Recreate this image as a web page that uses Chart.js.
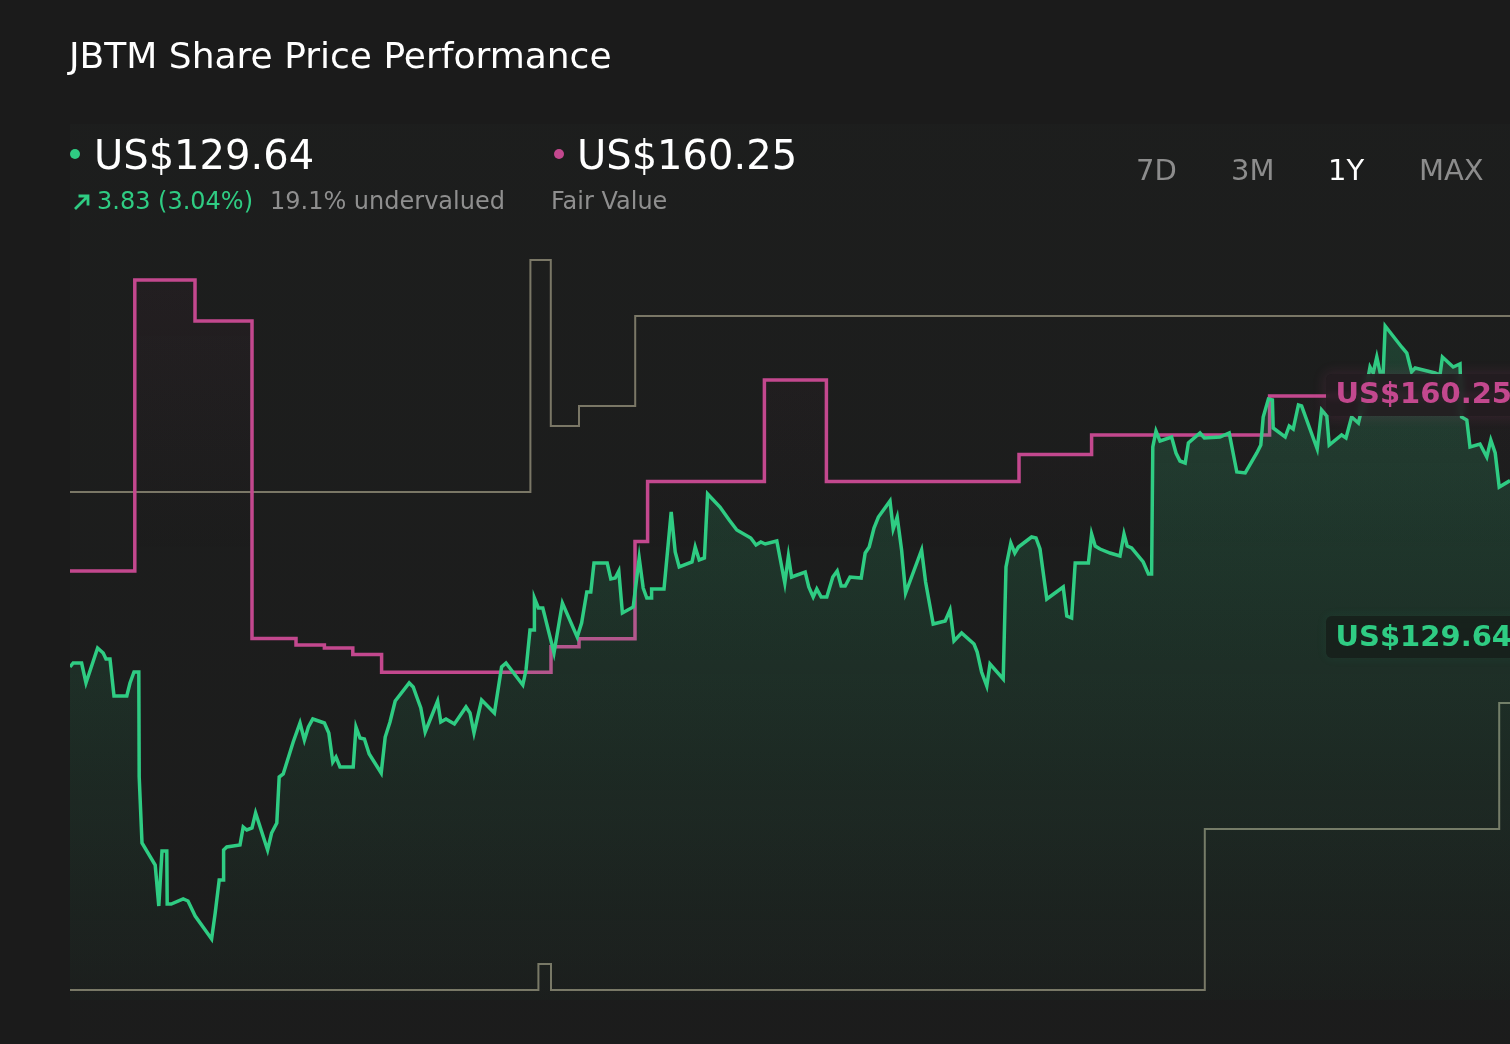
<!DOCTYPE html>
<html>
<head>
<meta charset="utf-8">
<script src="https://cdn.jsdelivr.net/npm/chart.js@4.4.1/dist/chart.umd.min.js"></script>
<style>
  html, body { margin:0; padding:0; background:#1b1b1b; }
  body { width:1510px; height:1044px; position:relative; overflow:hidden; font-family:"DejaVu Sans", sans-serif; }
  .abs { position:absolute; white-space:nowrap; line-height:1; }
  #panel { position:absolute; left:70px; top:124px; width:1440px; height:920px;
           background:linear-gradient(180deg, rgba(60,80,70,0.05), rgba(60,80,70,0.02)); }
  #c { position:absolute; left:0; top:0; }
  .btn { font-size:29px; color:#8c8c8c; top:156px; }
  .lbl { position:absolute; left:1326px; width:200px; height:42px; border-radius:6px;
         backdrop-filter: blur(3px); -webkit-backdrop-filter: blur(3px); }
</style>
</head>
<body>
<div id="panel"></div>
<canvas id="c" width="1510" height="1044"></canvas>

<div class="abs" style="left:69px; top:38px; font-size:36px; color:#ffffff;">JBTM Share Price Performance</div>

<div class="abs" style="left:70px; top:149px; width:10px; height:10px; border-radius:5px; background:#2fcc83;"></div>
<div class="abs" style="left:94px; top:134.5px; font-size:40px; color:#ffffff;">US$129.64</div>
<svg class="abs" style="left:72px; top:193px;" width="20" height="18" viewBox="0 0 20 18">
  <path d="M3 16 L16 3 M6.5 3 L16 3 L16 12.5" stroke="#2fcc83" stroke-width="2.8" fill="none"/>
</svg>
<div class="abs" style="left:97px; top:188.7px; font-size:24px; color:#2fcc83;">3.83 (3.04%)</div>
<div class="abs" style="left:270px; top:188.7px; font-size:24px; color:#8f8f8f;">19.1% undervalued</div>

<div class="abs" style="left:554px; top:149px; width:10px; height:10px; border-radius:5px; background:#c3488e;"></div>
<div class="abs" style="left:577px; top:134.5px; font-size:40px; color:#ffffff;">US$160.25</div>
<div class="abs" style="left:551px; top:188.7px; font-size:24px; color:#8f8f8f;">Fair Value</div>

<div class="abs btn" style="left:1136px;">7D</div>
<div class="abs btn" style="left:1231px;">3M</div>
<div class="abs btn" style="left:1328px; color:#ffffff;">1Y</div>
<div class="abs btn" style="left:1419px;">MAX</div>

<div class="lbl" style="top:374px; background:rgba(36,28,33,0.86); box-shadow:0 0 12px 3px rgba(195,72,142,0.12);"></div>
<div class="abs" style="left:1335.5px; top:379px; font-size:29px; font-weight:bold; color:#c3488e;">US$160.25</div>
<div class="lbl" style="top:616px; background:rgba(22,32,27,0.86); box-shadow:0 0 10px 2px rgba(47,204,131,0.05);"></div>
<div class="abs" style="left:1335.5px; top:622px; font-size:29px; font-weight:bold; color:#2fcc83;">US$129.64</div>

<script>
// ---- Data (x = day within the 1Y window, 0..360) ----
const priceDays = [
  0,0.8,2.9,4.0,6.9,8.3,9.0,10.0,11.0,14.2,
  15.0,16.0,17.2,17.3,18.0,21.3,22.2,23.0,24.2,24.3,
  25.3,28.3,29.5,31.3,35.4,36.3,37.3,38.3,38.4,39.2,
  42.5,43.3,44.2,45.5,46.4,49.4,50.4,51.7,52.3,53.3,
  55.8,57.5,58.6,59.6,60.7,63.6,64.7,65.7,66.5,67.5,
  70.8,71.5,72.5,73.6,74.8,77.8,78.8,80.0,81.3,84.8,
  85.8,86.7,87.7,88.8,91.9,92.7,94.0,96.1,99.0,100.0,
  101.0,102.9,106.1,107.9,109.0,113.2,114.0,115.0,116.0,116.1,
  117.1,118.2,121.0,123.1,126.8,127.9,129.2,130.2,131.0,134.3,
  135.2,136.3,137.2,138.1,140.8,142.3,143.3,144.2,145.3,145.4,
  148.5,150.3,151.3,152.3,155.5,156.3,157.3,158.6,159.4,162.5,
  164.8,166.7,170.2,171.5,172.7,173.8,176.7,178.7,179.6,180.4,
  183.8,184.7,185.8,186.7,187.8,189.2,190.7,191.8,192.8,193.8,
  195.0,197.8,198.8,199.8,201.0,202.1,205.0,205.8,206.8,207.9,
  208.9,212.9,213.9,215.8,218.8,220.0,221.0,222.9,226.0,226.8,
  227.9,229.2,230.0,233.3,234.0,235.2,236.2,237.1,240.4,241.5,
  242.5,244.2,248.3,249.2,250.4,251.3,254.6,255.4,256.3,257.5,
  260.0,262.5,263.5,264.3,265.4,268.3,269.6,270.4,270.7,271.5,
  272.5,275.4,276.5,277.5,278.8,279.6,282.5,283.6,287.5,289.8,
  291.7,293.8,296.7,297.7,298.3,299.6,300.6,300.8,303.8,304.8,
  305.8,307.1,307.9,311.8,312.9,314.2,314.8,317.9,319.0,320.4,
  322.1,323.5,325.0,325.8,326.7,327.5,328.3,328.8,332.9,334.2,
  335.4,336.3,341.3,342.5,343.1,345.8,347.5,347.9,349.2,350.0,
  352.5,354.2,355.2,356.3,357.3,360.0
];
const priceValues = [
  111.0,111.4,111.4,109.4,112.9,112.4,111.8,111.8,108.1,108.1,
  109.4,110.5,110.5,100.0,93.4,91.2,87.1,92.6,92.6,87.3,
  87.3,87.8,87.6,86.1,83.8,86.4,89.7,89.7,92.7,93.0,
  93.2,95.0,94.7,94.9,96.4,92.7,94.4,95.4,100.0,100.3,
  103.5,105.4,103.7,105.0,105.8,105.4,104.4,101.5,102.0,101.0,
  101.0,105.0,103.9,103.8,102.3,100.4,104.0,105.5,107.6,109.4,
  109.0,108.0,106.9,104.5,107.6,105.5,105.8,105.3,107.0,106.4,
  104.4,107.7,106.4,111.0,111.4,109.2,110.7,114.7,114.7,117.9,
  116.9,116.9,112.4,117.4,114.0,115.4,118.5,118.5,121.4,121.4,
  119.8,119.9,120.6,116.4,117.0,121.9,118.9,117.9,117.9,118.8,
  118.8,126.5,122.5,121.0,121.5,123.0,121.7,121.9,128.3,127.0,
  125.7,124.7,123.9,123.2,123.5,123.3,123.6,119.4,122.1,120.0,
  120.5,119.0,118.0,118.8,118.0,118.0,120.0,120.6,119.1,119.1,
  120.0,119.9,122.4,123.0,124.9,126.0,127.6,124.8,126.0,122.7,
  118.4,122.7,119.5,115.3,115.6,116.7,113.6,114.4,113.3,112.5,
  110.5,109.1,111.3,109.8,121.0,123.4,122.4,123.0,124.0,123.9,
  122.8,117.8,119.0,116.1,115.9,121.4,121.4,124.3,123.1,122.8,
  122.4,122.1,124.3,123.1,122.9,121.5,120.3,120.3,133.0,134.6,
  133.6,134.0,132.4,131.6,131.4,133.4,134.4,133.9,134.0,134.4,
  130.5,130.4,132.4,133.2,136.0,137.8,137.7,134.9,134.0,135.1,
  134.8,137.2,137.1,132.8,136.7,136.1,133.2,134.2,133.9,136.0,
  135.4,137.7,141.0,140.4,142.0,140.5,140.5,145.1,143.0,142.4,
  140.5,140.9,140.4,140.2,142.0,141.0,141.3,136.0,135.7,133.0,
  133.3,132.0,133.7,132.4,129.0,129.64
];

// Fair value estimate, step changes (day, value)
const fairValueDays   = [0, 16.2, 31.25, 45.5, 56.5, 63.6, 70.7, 77.9, 120.25, 127.25, 141.25, 144.4, 173.6, 189.1, 237.25, 255.4, 299.9, 360];
const fairValueValues = [125.25, 183.45, 175.25, 111.75, 110.45, 109.85, 108.55, 105.0, 110.1, 111.7, 131.15, 143.15, 163.45, 143.15, 148.55, 152.45, 160.25, 160.25];

// Grey upper / lower range steps (day, value)
const upperRangeDays   = [0, 115.1, 120.2, 127.25, 141.3, 360];
const upperRangeValues = [141.05, 187.45, 154.25, 158.25, 176.25, 176.25];
const lowerRangeDays   = [0, 117.1, 120.25, 283.7, 357.3, 360];
const lowerRangeValues = [41.45, 46.65, 41.45, 73.65, 98.85, 98.85];

const GREEN = '#2fcc83', PINK = '#c3488e', GREY = '#7a7766';

function pts(xs, ys) {
  const n = Math.min(xs.length, ys.length), out = [];
  for (let i = 0; i < n; i++) out.push({x: xs[i], y: ys[i]});
  return out;
}

function greenFill(ctx) {
  const chart = ctx.chart;
  if (!chart.chartArea) return 'rgba(47,204,131,0.1)';
  const g = chart.ctx.createLinearGradient(0, 320, 0, 1000);
  g.addColorStop(0, 'rgba(47,204,131,0.20)');
  g.addColorStop(1, 'rgba(47,204,131,0.015)');
  return g;
}
function pinkFill(ctx) {
  const chart = ctx.chart;
  if (!chart.chartArea) return 'rgba(195,72,142,0.02)';
  const g = chart.ctx.createLinearGradient(0, 270, 0, 560);
  g.addColorStop(0, 'rgba(195,72,142,0.045)');
  g.addColorStop(1, 'rgba(195,72,142,0)');
  return g;
}

new Chart(document.getElementById('c'), {
  type: 'line',
  data: {
    datasets: [
      { label: 'Share Price', data: pts(priceDays, priceValues), yAxisID: 'yPrice',
        borderColor: GREEN, borderWidth: 3.5, pointRadius: 0, tension: 0,
        fill: 'start', backgroundColor: greenFill, borderJoinStyle: 'miter' },
      { label: 'Fair Value', data: pts(fairValueDays, fairValueValues), yAxisID: 'yValue',
        borderColor: PINK, borderWidth: 3.5, pointRadius: 0, stepped: 'before',
        fill: 'start', backgroundColor: pinkFill },
      { label: 'Upper', data: pts(upperRangeDays, upperRangeValues), yAxisID: 'yValue',
        borderColor: GREY, borderWidth: 2, pointRadius: 0, stepped: 'before', fill: false },
      { label: 'Lower', data: pts(lowerRangeDays, lowerRangeValues), yAxisID: 'yValue',
        borderColor: GREY, borderWidth: 2, pointRadius: 0, stepped: 'before', fill: false }
    ]
  },
  options: {
    responsive: false,
    devicePixelRatio: 1,
    animation: false,
    layout: { padding: { left: 70, right: 0, top: 240, bottom: 44 } },
    plugins: { legend: { display: false }, tooltip: { enabled: false } },
    scales: {
      x: { type: 'linear', min: 0, max: 360, display: false },
      yPrice: { type: 'linear', min: 77.7, max: 153.7, display: false },
      yValue: { type: 'linear', min: 39.45, max: 191.45, display: false }
    }
  }
});
</script>
</body>
</html>
